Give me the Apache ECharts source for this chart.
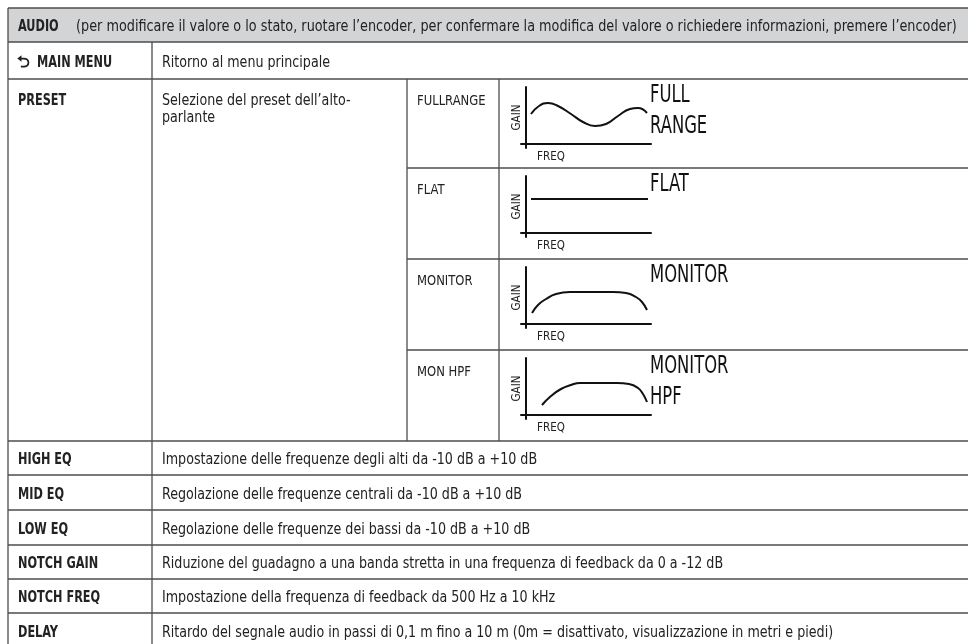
<!DOCTYPE html>
<html>
<head>
<meta charset="utf-8">
<script src="https://cdn.jsdelivr.net/npm/echarts@6/dist/echarts.min.js"></script>
<style>html,body{margin:0;padding:0;background:#fff}#c{width:968px;height:644px}</style>
</head>
<body>
<div id="c"></div>
<script>
// ---- data ----
const headerTitle = 'AUDIO';
const headerNote = '(per modificare il valore o lo stato, ruotare l\u2019encoder, per confermare la modifica del valore o richiedere informazioni, premere l\u2019encoder)';
const mainMenuLabel = 'MAIN MENU';
const mainMenuDesc = 'Ritorno al menu principale';
const presetLabel = 'PRESET';
const presetDesc = ['Selezione del preset dell\u2019alto-', 'parlante'];
const presetNames = ['FULLRANGE', 'FLAT', 'MONITOR', 'MON HPF'];
const presetTitles = [['FULL', 'RANGE'], ['FLAT'], ['MONITOR'], ['MONITOR', 'HPF']];
const axisNameX = 'FREQ';
const axisNameY = 'GAIN';
// curves: [freq, gain] in arbitrary units
const fullrangeCurve = [[5,30],[13,38],[22,41],[32,38],[45,30],[57,22],[69,18],[80,20],[92,28],[104,35],[112,36],[121,31]];
const flatCurve = [[5,34],[122,34]];
const monitorCurve = [[6,11],[12,19],[20,25],[30,30],[44,32],[87,32],[100,31],[110,27],[116,22],[121,14]];
const monHpfCurve = [[16,10],[25,19],[35,26],[45,30],[54,32],[91,32],[103,31],[112,27],[117,21],[121,13]];
const rowLabels = ['HIGH EQ', 'MID EQ', 'LOW EQ', 'NOTCH GAIN', 'NOTCH FREQ', 'DELAY'];
const rowDescs = [
  'Impostazione delle frequenze degli alti da -10 dB a +10 dB',
  'Regolazione delle frequenze centrali da -10 dB a +10 dB',
  'Regolazione delle frequenze dei bassi da -10 dB a +10 dB',
  'Riduzione del guadagno a una banda stretta in una frequenza di feedback da 0 a -12 dB',
  'Impostazione della frequenza di feedback da 500 Hz a 10 kHz',
  'Ritardo del segnale audio in passi di 0,1 m fino a 10 m (0m = disattivato, visualizzazione in metri e piedi)'
];
const curves = [fullrangeCurve, flatCurve, monitorCurve, monHpfCurve];

// ---- layout ----
const FONT = "'Liberation Sans Narrow','DejaVu Sans Condensed','Roboto Condensed','Open Sans Condensed',sans-serif";
const X0 = 8, X1 = 152, X2 = 407, X3 = 499, XR = 970;
const YT = 8, YH = 42, YM = 79;
const subTops = [79, 168, 259, 350, 441];
const lowTops = [441, 475, 510, 545, 579, 613, 648];
const LINE = '#4d4d4d';
const TXT = '#222';
const BODY = 15.5, BODYSX = 0.91, HEADSX = 0.92, BOLD = 15.5, BOLDSX = 0.81, DY = 2;

const g = [];
function hline(x1, x2, y) { g.push({type:'line', shape:{x1:x1,y1:y,x2:x2,y2:y}, style:{stroke:LINE, lineWidth:1.3}}); }
function vline(x, y1, y2) { g.push({type:'line', shape:{x1:x,y1:y1,x2:x,y2:y2}, style:{stroke:LINE, lineWidth:1.3}}); }
function text(x, y, s, size, bold, sx, opt) {
  g.push({type:'text', x:x, y:y, scaleX: sx || 1, style:Object.assign({text:s, fill:TXT, font:(bold?'bold ':'')+size+'px '+FONT, textVerticalAlign:'middle', textAlign:'left'}, opt||{})});
}
// header
g.push({type:'rect', shape:{x:X0,y:YT,width:XR-X0,height:YH-YT}, style:{fill:'#d3d4d6'}});
hline(X0, XR, YT); hline(X0, XR, YH); hline(X0, XR, YM);
vline(X0, YT, 648);
vline(X1, YH, 648);
vline(X2, YM, subTops[4]); vline(X3, YM, subTops[4]);
subTops.forEach((y, i) => { if (i > 0 && i < 4) hline(X2, XR, y); });
lowTops.forEach(y => hline(X0, XR, y));
text(18, (YT + YH) / 2 + DY, headerTitle, BOLD, true, BOLDSX);
text(76, (YT + YH) / 2 + DY, headerNote, BODY, false, HEADSX);
text(17, (YH + YM) / 2 + DY, '\u2B8C', 16, true);
text(37, (YH + YM) / 2 + DY, mainMenuLabel, BOLD, true, BOLDSX);
text(162, (YH + YM) / 2 + DY, mainMenuDesc, BODY, false, BODYSX);
text(18, 101, presetLabel, BOLD, true, BOLDSX);
text(162, 101, presetDesc[0], BODY, false, BODYSX);
text(162, 118, presetDesc[1], BODY, false, BODYSX);
presetNames.forEach((n, i) => {
  text(417, subTops[i] + 22, n, 14.5, false, 0.89);
  presetTitles[i].forEach((t, j) => text(650, subTops[i] + 17 + 31 * j, t, 24, false, 0.76, {fill:'#111'}));
});
rowLabels.forEach((n, i) => {
  const cy = (lowTops[i] + lowTops[i + 1]) / 2 + DY;
  text(18, cy, n, BOLD, true, BOLDSX);
  text(162, cy, rowDescs[i], BODY, false, BODYSX);
});

// ---- mini charts ----
const grids = [], xAxes = [], yAxes = [], series = [];
curves.forEach((c, i) => {
  grids.push({left: 521, width: 130, top: subTops[i] + 8, height: 61});
  xAxes.push({type:'value', gridIndex:i, min:-5, max:125, axisLine:{onZero:true, lineStyle:{color:'#111', width:2}}, axisTick:{show:false}, axisLabel:{show:false}, splitLine:{show:false},
    name: axisNameX, nameLocation:'start', nameGap:-16, nameTextStyle:{fontFamily:FONT, fontSize:11.5, color:TXT, align:'left', verticalAlign:'top', padding:[7,0,0,0]}});
  yAxes.push({type:'value', gridIndex:i, min:-4, max:57, axisLine:{onZero:true, lineStyle:{color:'#111', width:2}}, axisTick:{show:false}, axisLabel:{show:false}, splitLine:{show:false},
    name: axisNameY, nameLocation:'middle', nameGap:-2, nameRotate:90, nameTextStyle:{fontFamily:FONT, fontSize:11.5, color:TXT}});
  series.push({type:'line', xAxisIndex:i, yAxisIndex:i, data:c, smooth: c.length > 2 ? 0.5 : false, showSymbol:false, lineStyle:{color:'#111', width:2}, silent:true});
});

const chart = echarts.init(document.getElementById('c'), null, {renderer:'canvas'});
chart.setOption({
  animation:false,
  backgroundColor:'#fff',
  grid: grids, xAxis: xAxes, yAxis: yAxes, series: series,
  graphic: {elements: g}
});
</script>
</body>
</html>
